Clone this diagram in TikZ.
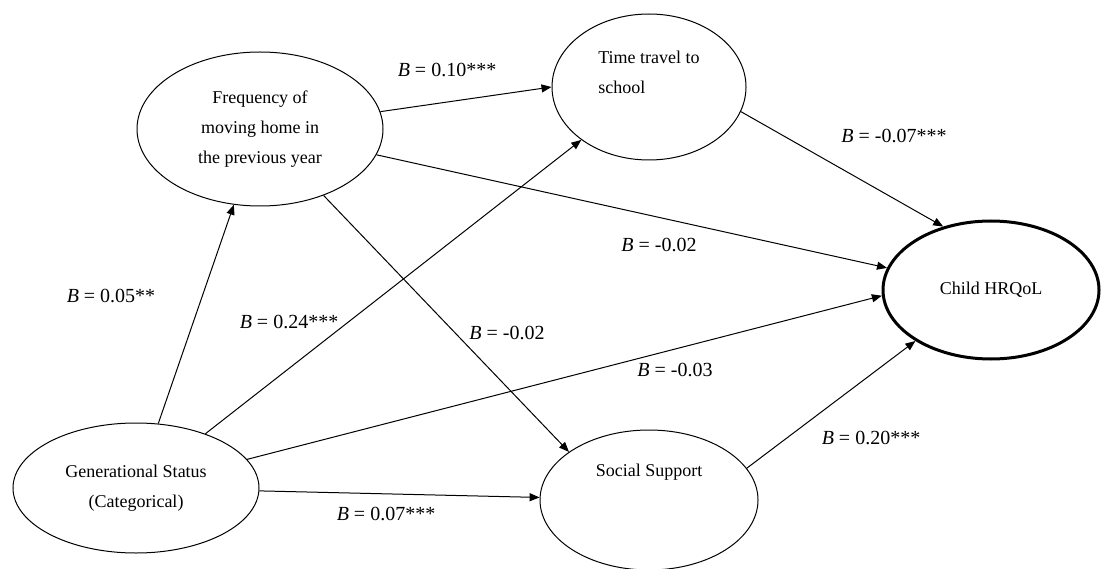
\documentclass[tikz,border=0pt]{standalone}
\usepackage{fontspec}
\setmainfont{Liberation Serif}
\usetikzlibrary{shapes.geometric,arrows.meta}

\begin{document}
\begin{tikzpicture}[x=1pt,y=-1pt,>={Triangle[length=10pt,width=8pt]},
        var/.style={draw,ellipse,line width=1pt,inner sep=0pt,align=center,font=\fontsize{18}{30}\selectfont},
        link/.style={->,line width=1pt},
        coef/.style={font=\fontsize{20}{24}\selectfont}]
    \useasboundingbox (0,0) rectangle (1102,569);
    \node[var,minimum width=246pt,minimum height=154pt] (freq) at (260,129) {Frequency of\\moving home in\\the previous year};
    \node[var,align=left,minimum width=194pt,minimum height=146pt] (time) at (649,87) {Time travel to\\school\\~};
    \node[var,line width=3pt,minimum width=216pt,minimum height=138pt] (child) at (991,290) {Child HRQoL};
    \node[var,minimum width=246pt,minimum height=130pt] (gen) at (136,488) {Generational Status\\(Categorical)};
    \node[var,minimum width=218pt,minimum height=140pt] (social) at (649,500) {Social Support\\~\\~};
    \draw[link] (gen) -- (freq);
    \draw[link] (gen) -- (time);
    \draw[link] (gen) -- (child.183);
    \draw[link] (gen) -- (social);
    \draw[link] (freq) -- (time.west);
    \draw[link] (freq) -- (child.168);
    \draw[link] (freq) -- (social.149);
    \draw[link] (time.-15) -- (child.127);
    \draw[link] (social.18) -- (child.214);
    \node[coef] (bFT) at (447,70) {\textit{B} = 0.10***};
    \node[coef] (bTC) at (894,136) {\textit{B} = -0.07***};
    \node[coef] (bFC) at (659,245) {\textit{B} = -0.02};
    \node[coef] (bGF) at (111,296) {\textit{B} = 0.05**};
    \node[coef] (bGT) at (289,322) {\textit{B} = 0.24***};
    \node[coef] (bFS) at (507,333) {\textit{B} = -0.02};
    \node[coef] (bGC) at (675,370) {\textit{B} = -0.03};
    \node[coef] (bGS) at (386,514) {\textit{B} = 0.07***};
    \node[coef] (bSC) at (871,438) {\textit{B} = 0.20***};
\end{tikzpicture}
\end{document}
